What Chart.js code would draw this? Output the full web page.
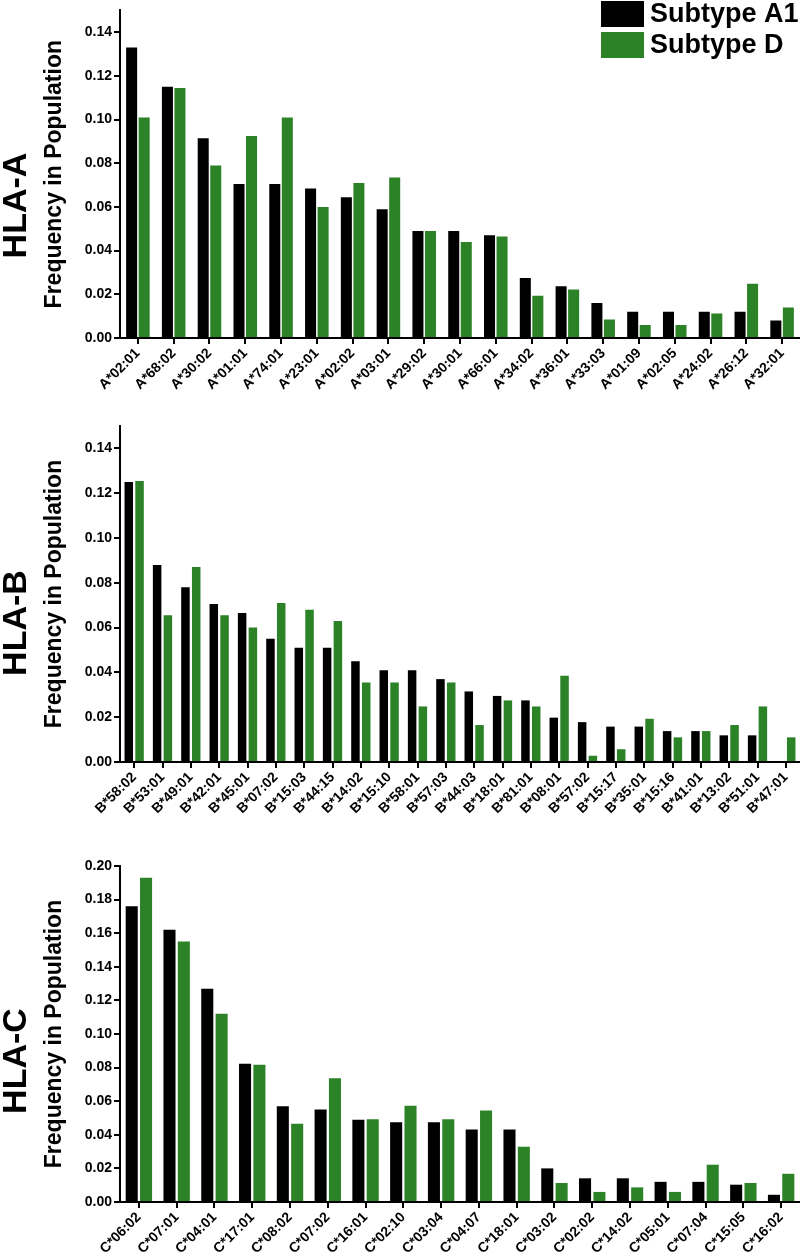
<!DOCTYPE html>
<html>
<head>
<meta charset="utf-8">
<title>HLA allele frequencies</title>
<script src="https://cdn.jsdelivr.net/npm/chart.js@4.4.1/dist/chart.umd.min.js"></script>
<style>
  body { margin: 0; background: #fff; }
  #wrap { position: relative; width: 800px; height: 1256px; }
  canvas { position: absolute; left: 0; }
</style>
</head>
<body>
<div id="wrap">
  <canvas id="chartA" width="800" height="410" style="top:0px"></canvas>
  <canvas id="chartB" width="800" height="410" style="top:410px"></canvas>
  <canvas id="chartC" width="800" height="436" style="top:820px"></canvas>
</div>
<script>
// series
var seriesNames = ["Subtype A1", "Subtype D"];
var seriesColors = ["#000000", "#2b8227"];

// HLA-A
var hlaALabels = ["A*02:01", "A*68:02", "A*30:02", "A*01:01", "A*74:01", "A*23:01", "A*02:02", "A*03:01",
  "A*29:02", "A*30:01", "A*66:01", "A*34:02", "A*36:01", "A*33:03", "A*01:09", "A*02:05", "A*24:02",
  "A*26:12", "A*32:01"];
var hlaA_A1 = [0.133, 0.115, 0.0915, 0.0705, 0.0705, 0.0685, 0.0645, 0.059, 0.049, 0.049, 0.047,
  0.0275, 0.0237, 0.016, 0.012, 0.012, 0.012, 0.012, 0.008];
var hlaA_D = [0.101, 0.1145, 0.079, 0.0925, 0.101, 0.060, 0.071, 0.0735, 0.049, 0.044, 0.0465,
  0.0193, 0.0222, 0.0085, 0.006, 0.006, 0.0112, 0.0248, 0.014];

// HLA-B
var hlaBLabels = ["B*58:02", "B*53:01", "B*49:01", "B*42:01", "B*45:01", "B*07:02", "B*15:03", "B*44:15",
  "B*14:02", "B*15:10", "B*58:01", "B*57:03", "B*44:03", "B*18:01", "B*81:01", "B*08:01", "B*57:02",
  "B*15:17", "B*35:01", "B*15:16", "B*41:01", "B*13:02", "B*51:01", "B*47:01"];
var hlaB_A1 = [0.125, 0.088, 0.078, 0.0705, 0.0665, 0.055, 0.051, 0.051, 0.045, 0.041, 0.041, 0.037,
  0.0315, 0.0295, 0.0275, 0.0198, 0.0178, 0.0158, 0.0158, 0.0138, 0.0138, 0.0119, 0.0119, 0];
var hlaB_D = [0.1255, 0.0655, 0.087, 0.0655, 0.060, 0.071, 0.068, 0.063, 0.0355, 0.0355, 0.0248, 0.0355,
  0.0165, 0.0275, 0.0248, 0.0385, 0.0028, 0.0057, 0.0193, 0.011, 0.0138, 0.0165, 0.0248, 0.011];

// HLA-C
var hlaCLabels = ["C*06:02", "C*07:01", "C*04:01", "C*17:01", "C*08:02", "C*07:02", "C*16:01", "C*02:10",
  "C*03:04", "C*04:07", "C*18:01", "C*03:02", "C*02:02", "C*14:02", "C*05:01", "C*07:04", "C*15:05", "C*16:02"];
var hlaC_A1 = [0.176, 0.162, 0.127, 0.0823, 0.057, 0.055, 0.049, 0.0474, 0.0474, 0.0432, 0.0432, 0.020,
  0.0141, 0.0141, 0.012, 0.012, 0.0103, 0.0043];
var hlaC_D = [0.193, 0.155, 0.112, 0.0817, 0.0466, 0.0736, 0.0492, 0.0573, 0.0492, 0.0545, 0.0329, 0.0113,
  0.006, 0.0087, 0.006, 0.0222, 0.0113, 0.0168];

var FONT = "'Liberation Sans', Arial, Helvetica, sans-serif";
Chart.defaults.font.family = FONT;
Chart.defaults.color = "#000";

// legend drawn in the top right corner, over the plot
var cornerLegend = {
  id: "cornerLegend",
  afterDraw: function(chart) {
    var ctx = chart.ctx;
    ctx.save();
    ctx.font = "bold 27px " + FONT;
    ctx.textBaseline = "middle";
    chart.data.datasets.forEach(function(ds, i) {
      var y = 1 + i * 31;
      ctx.fillStyle = ds.backgroundColor;
      ctx.fillRect(601, y, 43, 26);
      ctx.fillStyle = "#000";
      ctx.fillText(ds.label, 650, y + 14);
    });
    ctx.restore();
  }
};

function makeChart(id, title, labels, a1, d, o) {
  return new Chart(document.getElementById(id), {
    type: "bar",
    data: {
      labels: labels,
      datasets: [
        {label: seriesNames[0], data: a1, backgroundColor: seriesColors[0], borderWidth: 0,
          barPercentage: o.barPct, categoryPercentage: o.catPct},
        {label: seriesNames[1], data: d, backgroundColor: seriesColors[1], borderWidth: 0,
          barPercentage: o.barPct, categoryPercentage: o.catPct}
      ]
    },
    options: {
      responsive: false,
      animation: false,
      devicePixelRatio: 1,
      layout: {padding: {top: o.top, right: 0, bottom: 0, left: 0}},
      plugins: {
        legend: {display: false},
        tooltip: {enabled: false},
        title: {
          display: true, position: "left", text: title, color: "#000",
          font: {size: 34, weight: "bold", lineHeight: 1},
          padding: {top: 0, bottom: 0}
        }
      },
      scales: {
        x: {
          offset: true,
          grid: {offset: false, drawOnChartArea: false, drawTicks: true, tickLength: 6, color: "#000", lineWidth: 2},
          border: {display: true, color: "#000", width: 2},
          ticks: {autoSkip: false, minRotation: 45, maxRotation: 45, padding: 1, color: "#000",
            font: {size: 14, weight: "bold"}},
          afterFit: function(s) { s.height = o.xh; }
        },
        y: {
          min: 0, max: o.ymax,
          grid: {drawOnChartArea: false, drawTicks: true, tickLength: 6, color: "#000", lineWidth: 2},
          border: {display: true, color: "#000", width: 2},
          ticks: {stepSize: 0.02, padding: 2, color: "#000", font: {size: 14, weight: "bold"},
            callback: function(v) { return v.toFixed(2); }},
          afterBuildTicks: function(s) {
            s.ticks = s.ticks.filter(function(t) {
              var k = t.value / 0.02;
              return Math.abs(k - Math.round(k)) < 1e-6;
            });
          },
          title: {display: true, text: "Frequency in Population", color: "#000",
            font: {size: 23, weight: "bold"}, padding: {top: 7, bottom: 0}},
          afterFit: function(s) { s.width = 86; }
        }
      }
    },
    plugins: o.legend ? [cornerLegend] : []
  });
}

makeChart("chartA", "HLA-A", hlaALabels, hlaA_A1, hlaA_D,
  {ymax: 0.15, top: 1, xh: 72, barPct: 0.88, catPct: 0.70, legend: true});
makeChart("chartB", "HLA-B", hlaBLabels, hlaB_A1, hlaB_D,
  {ymax: 0.15, top: 16, xh: 58, barPct: 0.79, catPct: 0.76, legend: false});
makeChart("chartC", "HLA-C", hlaCLabels, hlaC_A1, hlaC_D,
  {ymax: 0.20, top: 46, xh: 54, barPct: 0.84, catPct: 0.76, legend: false});
</script>
</body>
</html>
